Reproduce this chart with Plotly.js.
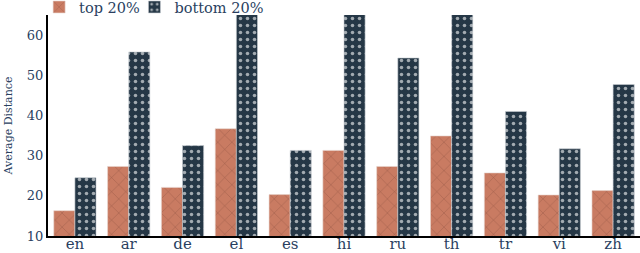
<!DOCTYPE html>
<html><head><meta charset="utf-8">
<script src="https://cdn.plot.ly/plotly-3.0.1.min.js"></script>
<style>html,body{margin:0;padding:0;background:#fff}#chart{width:640px;height:253px}</style>
</head><body><div id="chart"></div>
<script>
const categories = ["en","ar","de","el","es","hi","ru","th","tr","vi","zh"];
const top20 = [16.3, 27.3, 22.1, 36.7, 20.3, 31.3, 27.3, 34.9, 25.7, 20.2, 21.3];
const bottom20 = [24.5, 55.8, 32.5, 66, 31.3, 66, 54.3, 66, 41.0, 31.7, 47.7];
const seriesNames = ["top 20%", "bottom 20%"];
const yTicks = [10, 20, 30, 40, 50, 60];

const font = "DejaVu Serif, serif";
const traces = [
  {type:"bar", name: seriesNames[0], x: categories, y: top20, legend:"legend",
   marker:{color:"#c97b62", line:{color:"#e8d5cf", width:0.6},
     pattern:{shape:"x", fgcolor:"#8a4f3e", bgcolor:"#c97b62", size:10, solidity:0.08, fgopacity:0.85}}},
  {type:"bar", name: seriesNames[1], x: categories, y: bottom20, legend:"legend2",
   marker:{color:"#253746", line:{color:"#c9cfd4", width:0.6},
     pattern:{shape:".", fgcolor:"#a3abb1", bgcolor:"#253746", size:7, solidity:0.2}}}
];
const legendBase = {orientation:"h", xanchor:"left", y:1.036, yanchor:"middle",
  font:{family:font, size:14.5, color:"#2a3f5f"}, bgcolor:"rgba(0,0,0,0)", itemwidth:30};
const layout = {
  width:640, height:253,
  margin:{l:48, r:0, t:15, b:17, autoexpand:false},
  paper_bgcolor:"#fff", plot_bgcolor:"#fff",
  font:{family:font, color:"#2a3f5f", size:13},
  barmode:"group", bargap:0.215, bargroupgap:0,
  showlegend:true,
  legend: Object.assign({}, legendBase, {x:-0.015}),
  legend2: Object.assign({}, legendBase, {x:0.146}),
  xaxis:{showline:true, linecolor:"#000", linewidth:2, ticks:"", showgrid:false,
    tickfont:{family:font, size:15, color:"#2a3f5f"}, automargin:false, ticklabelstandoff:-7},
  yaxis:{range:[10,65], tickvals:yTicks, showline:true, linecolor:"#000", linewidth:2,
    showgrid:false, zeroline:false, ticks:"", automargin:false,
    tickfont:{family:font, size:13, color:"#2a3f5f"},
    title:{text:"Average Distance", font:{family:font, size:11, color:"#2a3f5f"}, standoff:12}}
};
Plotly.newPlot("chart", traces, layout, {displayModeBar:false, staticPlot:true});
</script></body></html>
